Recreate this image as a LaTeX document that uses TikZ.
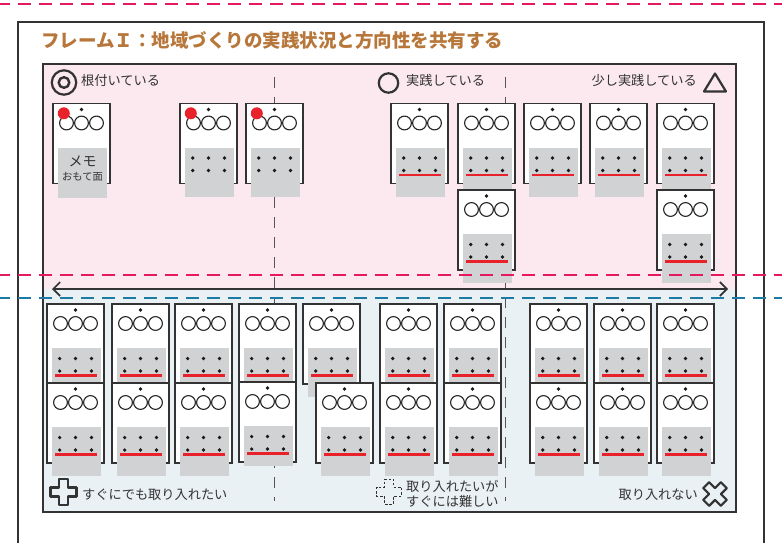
\documentclass[tikz,border=0pt]{standalone}
\usepackage{fontspec}
\setmainfont{Noto Sans CJK JP}
\usetikzlibrary{arrows.meta}
\definecolor{pinkbg}{HTML}{FCE9EF}
\definecolor{bluebg}{HTML}{EAF1F5}
\definecolor{pinkdash}{HTML}{E5195E}
\definecolor{bluedash}{HTML}{1C7BA4}
\definecolor{framec}{HTML}{333333}
\definecolor{graybox}{HTML}{D1D2D4}
\definecolor{redc}{HTML}{E8212B}
\definecolor{titlec}{HTML}{B7763A}
\definecolor{txt}{HTML}{333333}
\definecolor{vdash}{HTML}{555555}
\tikzset{
  cardbox/.style={fill=white, draw=framec, line width=1.6pt},
  ring/.style={draw=black!85, line width=1.1pt},
  dotc/.style={fill=black!90},
  redline/.style={draw=redc, line width=2.6pt},
  grayfill/.style={fill=graybox},
  frameline/.style={draw=framec, line width=1.8pt},
  pinkline/.style={draw=pinkdash, line width=2pt, dash pattern=on 13pt off 8pt},
  blueline/.style={draw=bluedash, line width=2.4pt, dash pattern=on 13pt off 8pt},
  vline/.style={draw=vdash, line width=1pt, dash pattern=on 11pt off 9pt},
  lbl/.style={inner sep=0pt, text=txt, font=\fontsize{13.2}{13.2}\selectfont},
  symb/.style={draw=framec, line width=2.2pt, line join=round},
}
\newcommand{\kdots}{\foreach \dx in {12.7,28.5,44.5}{\foreach \dy in {54.5,67}{\fill[dotc] (\dx,\dy) circle (1.8pt);}}}
\newcommand{\kline}{\draw[redline] (8,71.5) -- (50,71.5);}
\newcommand{\kred}{\fill[redc] (10.8,9.8) circle (6pt);}
% x, y, gray bottom, extra content
\newcommand{\kcard}[4]{%
  \begin{scope}[shift={(#1,#2)}]
    \filldraw[cardbox] (0,0) rectangle (57,80);
    \fill[dotc] (28.5,6) circle (1.8pt);
    \foreach \cx in {13.5,28.5,43.5}{\draw[ring] (\cx,19.5) circle (6.9pt);}
    \fill[grayfill] (5,44) rectangle (53.5,#3);
    #4
  \end{scope}}
\begin{document}
\begin{tikzpicture}[x=1pt,y=-1pt]
\useasboundingbox (0,0) rectangle (782,543);
% outer frame
\draw[frameline] (18,548) -- (18,22) -- (764,22) -- (764,548);
\draw[pinkline] (-3,4) -- (785,4);
\node[anchor=west, inner sep=0pt, text=titlec, font=\fontsize{18.5}{18.5}\selectfont\bfseries] (title) at (41,40) {フレームＩ：地域づくりの実践状況と方向性を共有する};
% panel fills
\fill[pinkbg] (43,64) rectangle (736,289);
\fill[bluebg] (43,289) rectangle (736,512);
% vertical dashed dividers
\draw[vline] (274,77) -- (274,501);
\draw[vline] (505,77) -- (505,501);
% top labels
\draw[framec, line width=2.2pt] (64,82.5) circle (12.2pt);
\draw[framec, line width=2.4pt] (64,82.5) circle (5.3pt);
\node[lbl, anchor=west] (l1) at (81,81) {根付いている};
\draw[framec, line width=2.2pt] (388.5,83) circle (9.7pt);
\node[lbl, anchor=west] (l2) at (406,80) {実践している};
\node[lbl, anchor=east] (l3) at (697,80) {少し実践している};
\draw[symb] (704,91.5) -- (726,91.5) -- (715,73.5) -- cycle;
% bottom labels
\draw[symb] (63.5,492) ++(-4.5,-13) -- ++(9,0) -- ++(0,8.5) -- ++(8.5,0) -- ++(0,9) -- ++(-8.5,0) -- ++(0,8.5) -- ++(-9,0) -- ++(0,-8.5) -- ++(-8.5,0) -- ++(0,-9) -- ++(8.5,0) -- cycle;
\node[lbl, anchor=west] (l4) at (82,495) {すぐにでも取り入れたい};
\draw[framec, line width=1pt, dash pattern=on 2.5pt off 1.8pt] (389,491.5) ++(-4.5,-12.5) -- ++(9,0) -- ++(0,8) -- ++(8,0) -- ++(0,9) -- ++(-8,0) -- ++(0,8) -- ++(-9,0) -- ++(0,-8) -- ++(-8,0) -- ++(0,-9) -- ++(8,0) -- cycle;
\node[lbl, anchor=west] (l5) at (406,486) {取り入れたいが};
\node[lbl, anchor=west] (l6) at (406,501) {すぐには難しい};
\node[lbl, anchor=east] (l7) at (698,495) {取り入れない};
\begin{scope}[shift={(715,494)}, rotate=45]
\draw[symb] (-4.2,-12.5) -- (4.2,-12.5) -- (4.2,-4.2) -- (12.5,-4.2) -- (12.5,4.2) -- (4.2,4.2) -- (4.2,12.5) -- (-4.2,12.5) -- (-4.2,4.2) -- (-12.5,4.2) -- (-12.5,-4.2) -- (-4.2,-4.2) -- cycle;
\end{scope}
% top section cards
\kcard{53}{103.5}{94}{\kred
  \node[inner sep=0pt, text=txt, font=\fontsize{14}{14}\selectfont] (memo) at (29.5,58) {メモ};
  \node[inner sep=0pt, text=txt, font=\fontsize{10.3}{10.3}\selectfont] (omote) at (29.5,73) {おもて面};}
\kcard{180}{103.5}{93}{\kdots\kred}
\kcard{246}{103.5}{93}{\kdots\kred}
\foreach \x in {391,458,524,590,657}{\kcard{\x}{103.5}{93}{\kdots\kline}}
\kcard{458}{190}{93}{\kdots\kline}
\kcard{657}{190}{93}{\kdots\kline}
% bottom section cards
\foreach \x in {47,112,175,239,303,380,444,530,594,657}{\kcard{\x}{304}{93}{\kdots\kline}}
\foreach \x in {47,112,175,316,380,444,530,594,657}{\kcard{\x}{383}{93}{\kdots\kline}}
\kcard{239}{382}{84}{\kdots\kline}
% panel border
\draw[framec, line width=2.4pt] (43,64) rectangle (736,512);
% horizontal dashed lines
\draw[pinkline] (-3,275) -- (785,275);
\draw[blueline] (-3,298) -- (785,298);
% axis arrow
\coordinate (aL) at (52,289);
\coordinate (aR) at (728,289);
\draw[framec, line width=1.6pt, {Straight Barb[length=7pt,width=14pt]}-{Straight Barb[length=7pt,width=14pt]}] (aL) -- (aR);
\end{tikzpicture}
\end{document}
